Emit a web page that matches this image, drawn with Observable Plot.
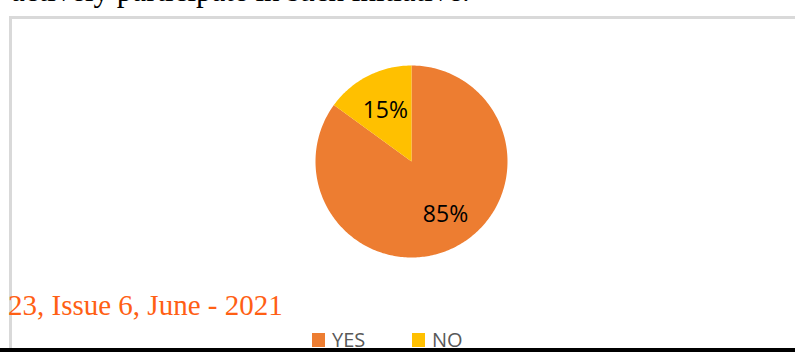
<!DOCTYPE html>
<html>
<head>
<meta charset="utf-8">
<script src="https://cdn.jsdelivr.net/npm/d3@7"></script>
<script src="https://cdn.jsdelivr.net/npm/@observablehq/plot@0.6"></script>
<style>
  html, body { margin: 0; padding: 0; background: #fff; }
  #wrap { position: relative; width: 795px; height: 352px; overflow: hidden; }
  #frame { position: absolute; left: 9px; top: 16px; width: 820px; height: 360px; border: 3px solid #d9d9d9; box-sizing: border-box; }
  #chart { position: absolute; left: 0; top: 0; }
  #overlay { position: absolute; left: 0; top: 0; pointer-events: none; }
  #bar { position: absolute; left: 0; top: 348px; width: 795px; height: 4px; background: #000; }
</style>
</head>
<body>
<div id="wrap">
  <div id="frame"></div>
  <div id="chart"></div>
  <svg id="overlay" width="795" height="352"></svg>
  <div id="bar"></div>
</div>
<script>
const categories = ["YES", "NO"];
const values = [85, 15];
const labels = ["85%", "15%"];
const colors = ["#ED7D31", "#FFC000"];
const headerText = "actively participate in such initiative.";
const footerText = "23, Issue 6, June - 2021";

// geometry of the pie in the plot's data space (unit radius)
const W = 795, H = 352, cx = 411, cy = 161, R = 96;

const pie = d3.pie().sort(null).value(d => d.value)(
  categories.map((c, i) => ({category: c, value: values[i], label: labels[i]}))
);

// sample slice outlines (center + arc points)
const slicePts = [];
for (const a of pie) {
  const n = Math.max(8, Math.ceil((a.endAngle - a.startAngle) / (Math.PI / 180)));
  slicePts.push({category: a.data.category, x: 0, y: 0});
  for (let k = 0; k <= n; k++) {
    const t = a.startAngle + (a.endAngle - a.startAngle) * k / n;
    slicePts.push({category: a.data.category, x: Math.sin(t), y: Math.cos(t)});
  }
  slicePts.push({category: a.data.category, x: 0, y: 0});
}
const labelR = [0.62, 0.6];
const labelDx = [7, 0];
const labelPts = pie.map((a, i) => {
  const t = (a.startAngle + a.endAngle) / 2;
  return {label: a.data.label, x: Math.sin(t) * labelR[i], y: Math.cos(t) * labelR[i]};
});

const chart = Plot.plot({
  width: W, height: H,
  margin: 0,
  x: {domain: [-cx / R, (W - cx) / R], axis: null},
  y: {domain: [-(H - cy) / R, cy / R], axis: null},
  color: {domain: categories, range: colors},
  marks: [
    Plot.line(slicePts, {x: "x", y: "y", z: "category", fill: "category", stroke: "none", curve: "linear"}),
    Plot.text(labelPts.slice(0, 1), {x: "x", y: "y", text: "label", dx: labelDx[0], fill: "#000", fontSize: 23,
      fontFamily: "'Open Sans', sans-serif"}),
    Plot.text(labelPts.slice(1), {x: "x", y: "y", text: "label", fill: "#000", fontSize: 23,
      fontFamily: "'Open Sans', sans-serif"})
  ],
  style: {background: "transparent", overflow: "visible"}
});
document.getElementById("chart").appendChild(chart);

// page texts and legend
const ov = d3.select("#overlay");
ov.append("text").attr("x", 11).attr("y", 0.5)
  .attr("font-family", "'Liberation Serif', 'Times New Roman', serif")
  .attr("font-size", 31).attr("fill", "#000").text(headerText);
ov.append("text").attr("x", 8).attr("y", 315)
  .attr("font-family", "'Liberation Serif', 'Times New Roman', serif")
  .attr("font-size", 29).attr("fill", "#FF5F14").text(footerText);

const legX = [312, 412];
categories.forEach((c, i) => {
  ov.append("rect").attr("x", legX[i]).attr("y", 333).attr("width", 13).attr("height", 14).attr("fill", colors[i]);
  ov.append("text").attr("x", legX[i] + 20).attr("y", 347)
    .attr("font-family", "'Open Sans', sans-serif").attr("font-size", 20)
    .attr("fill", "#595959").text(c);
});
</script>
</body>
</html>
